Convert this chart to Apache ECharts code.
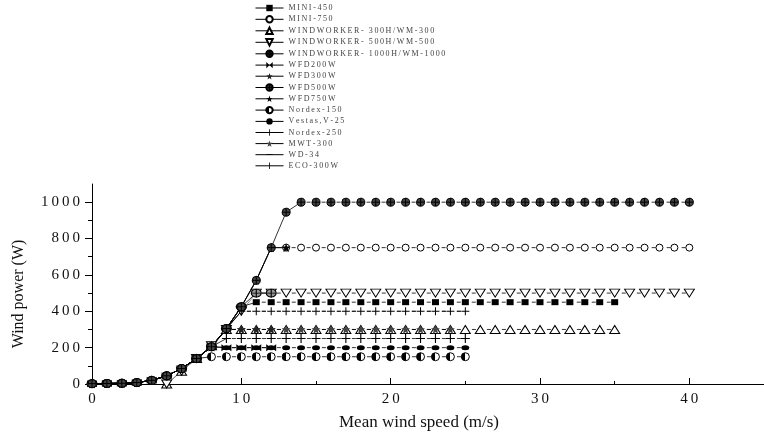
<!DOCTYPE html>
<html>
<head>
<meta charset="utf-8">
<script src="https://cdn.jsdelivr.net/npm/echarts@6/dist/echarts.min.js"></script>
<style>
html,body{margin:0;padding:0;background:#fff}
#main{width:764px;height:437px}
</style>
</head>
<body>
<div id="main"></div>
<script>
// power curves: wind speed (m/s) -> power (W)
var ramp = [2, 3, 4, 8, 20, 45, 85, 140, 205, 305, 425, 570, 750, 945]; // shared start-up part, speeds 0..13
var wwRamp = [0, 70, 140, 210, 300, 400]; // WINDWORKER start-up, speeds 5..10

var names = ['MINI-450', 'MINI-750', 'WINDWORKER- 300H/WM-300', 'WINDWORKER- 500H/WM-500',
	'WINDWORKER- 1000H/WM-1000', 'WFD200W', 'WFD300W', 'WFD500W', 'WFD750W', 'Nordex-150',
	'Vestas,V-25', 'Nordex-250', 'MWT-300', 'WD-34', 'ECO-300W'];
var rated    = [450, 750, 300, 500, 1000, 200, 300, 500, 750, 150, 200, 250, 300, 400, 400];
var headEnd  = [10, 12, 8, 10, 13, 8, 8, 10, 12, 7, 8, 8, 8, 9, 9];   // last speed of the start-up part
var flatTo   = [35, 40, 35, 40, 40, 12, 12, 12, 13, 25, 25, 25, 24, 25, 25]; // last speed at rated power
var useWW    = [0, 0, 1, 1, 0, 0, 0, 0, 0, 0, 0, 0, 0, 0, 0];

var xTicks = [0, 10, 20, 30, 40];
var xMinor = [5, 15, 25, 35];
var yTicks = [0, 200, 400, 600, 800, 1000];
var yMinor = [100, 300, 500, 700, 900];

// draw order (later ones on top)
var drawOrder = [2, 3, 0, 1, 9, 10, 11, 13, 14, 12, 5, 6, 7, 8, 4];

var star = 'path://M5,0 L6.2,3.5 L10,3.6 L7,5.9 L8.1,9.5 L5,7.4 L1.9,9.5 L3,5.9 L0,3.6 L3.8,3.5 Z';
var cplus = 'path://M5,0 A5,5 0 1,1 4.99,0 Z M5,0 L5,10 M0,5 L10,5';
var bowtie = 'path://M0,0 L10,8 L10,0 L0,8 Z';
var plus = 'path://M3.5,0 h1 v3.5 h3.5 v1 h-3.5 v3.5 h-1 v-3.5 h-3.5 v-1 h3.5 Z';
// tiny corner specks keep the box square so the legend does not stretch these
var dash = 'path://M0,0 L0.01,0 L0,0.01 Z M0,3.5 L8,3.5 L8,4.5 L0,4.5 Z M8,8 L7.99,8 L8,7.99 Z';
var bar = 'path://M0,0 L0.01,0 L0,0.01 Z M3.5,0 L4.5,0 L4.5,8 L3.5,8 Z M8,8 L7.99,8 L8,7.99 Z';
var half = {type: 'linear', x: 0, y: 0, x2: 1, y2: 0,
	colorStops: [{offset: 0.5, color: '#000'}, {offset: 0.5, color: '#fff'}]};

var marks = [
	{symbol: 'rect', size: [7, 6], fill: '#000'},
	{symbol: 'circle', size: 7, fill: '#fff', border: 1},
	{symbol: 'triangle', size: [10, 8], fill: '#fff', border: 1},
	{symbol: 'triangle', size: [10, 8], fill: '#fff', border: 1, rotate: 180},
	{symbol: cplus, size: 8, fill: '#444', border: 1},
	{symbol: bowtie, size: [10, 7], fill: '#000'},
	{symbol: star, size: 9, fill: '#222'},
	{symbol: cplus, size: [10, 8], fill: '#999', border: 1},
	{symbol: star, size: 9, fill: '#000'},
	{symbol: 'circle', size: 8, fill: half, border: 1},
	{symbol: 'circle', size: [8, 5], fill: '#000'},
	{symbol: plus, size: 9, fill: '#000'},
	{symbol: star, size: 9, fill: '#444'},
	{symbol: dash, size: 8, fill: '#000'},
	{symbol: bar, size: 8, fill: '#000'}
];

function curve(k) {
	var pts = [];
	if (useWW[k]) {
		for (var i = 0; 5 + i <= headEnd[k]; i++) pts.push([5 + i, wwRamp[i]]);
	} else {
		for (var i = 0; i <= headEnd[k]; i++) pts.push([i, ramp[i]]);
	}
	for (var s = headEnd[k] + 1; s <= flatTo[k]; s++) pts.push([s, rated[k]]);
	return pts;
}

function spaced(t, sp) {
	return String(t).split('').join(sp);
}

var series = [];
for (var j = 0; j < drawOrder.length; j++) {
	var k = drawOrder[j];
	var m = marks[k];
	var pts = curve(k);
	var nHead = useWW[k] ? headEnd[k] - 5 + 1 : headEnd[k] + 1;
	// solid start-up part (incl. the step onto rated power)
	series.push({
		type: 'line', data: pts.slice(0, nHead + 1), symbol: 'none', silent: true, z: 1,
		lineStyle: {color: useWW[k] ? '#777' : '#000', width: 0.8}
	});
	// broken line at rated power, dashes sit between the markers
	series.push({
		type: 'line', data: pts.slice(nHead), symbol: 'none', silent: true, z: 1,
		lineStyle: {color: '#000', width: 0.8, type: [4, 11], dashOffset: 9.5}
	});
	// markers (legend entry)
	series.push({
		name: names[k],
		type: 'line',
		data: pts,
		symbol: m.symbol,
		symbolSize: m.size,
		symbolRotate: m.rotate || 0,
		showAllSymbol: true,
		z: 2,
		lineStyle: {color: '#000', width: 0.8, opacity: 0},
		itemStyle: {color: m.fill, borderColor: '#000', borderWidth: m.border || 0},
		emphasis: {disabled: true}
	});
}

var serif = 'Liberation Serif';
var myChart = echarts.init(document.getElementById('main'));
var option = {
	animation: false,
	backgroundColor: '#fff',
	legend: {
		data: names,
		orient: 'vertical',
		left: 250,
		top: -1,
		itemWidth: 28,
		itemHeight: 8,
		itemGap: 3.1,
		lineStyle: {color: '#000', width: 1, type: 'solid', opacity: 1},
		formatter: function (n) { return spaced(n, '\u2009'); },
		textStyle: {fontFamily: serif, fontSize: 8, color: '#444', lineHeight: 8}
	},
	grid: {left: 92, right: -5, top: 184, bottom: 53},
	xAxis: [{
		type: 'value', min: 0, max: 45, interval: 10,
		name: 'Mean wind speed (m/s)', nameLocation: 'middle', nameGap: 30,
		nameTextStyle: {fontFamily: serif, fontSize: 17, color: '#111', padding: [0, 18, 0, 0]},
		axisLine: {lineStyle: {color: '#000', width: 1}},
		axisTick: {inside: true, length: 6, customValues: xTicks, lineStyle: {color: '#000'}},
		axisLabel: {customValues: xTicks, fontFamily: serif, fontSize: 15, color: '#111', margin: 8,
			formatter: function (v) { return spaced(v, '\u2009'); }},
		splitLine: {show: false}
	}, {
		type: 'value', min: 0, max: 45, position: 'bottom',
		axisLine: {show: false},
		axisTick: {inside: true, length: 3, customValues: xMinor, lineStyle: {color: '#000'}},
		axisLabel: {show: false},
		splitLine: {show: false}
	}],
	yAxis: [{
		type: 'value', min: 0, max: 1100, interval: 200,
		name: 'Wind power (W)', nameLocation: 'middle', nameGap: 65,
		nameTextStyle: {fontFamily: serif, fontSize: 16, color: '#111', padding: [0, 20, 0, 0]},
		axisLine: {show: true, lineStyle: {color: '#000', width: 1}},
		axisTick: {show: true, length: 7, customValues: yTicks, lineStyle: {color: '#000'}},
		axisLabel: {customValues: yTicks, fontFamily: serif, fontSize: 15, color: '#111', margin: 12,
			formatter: function (v) { return spaced(v, '\u2009'); }},
		splitLine: {show: false}
	}, {
		type: 'value', min: 0, max: 1100, position: 'left',
		axisLine: {show: false},
		axisTick: {show: true, length: 4, customValues: yMinor, lineStyle: {color: '#000'}},
		axisLabel: {show: false},
		splitLine: {show: false}
	}],
	series: series
};
myChart.setOption(option);
</script>
</body>
</html>
